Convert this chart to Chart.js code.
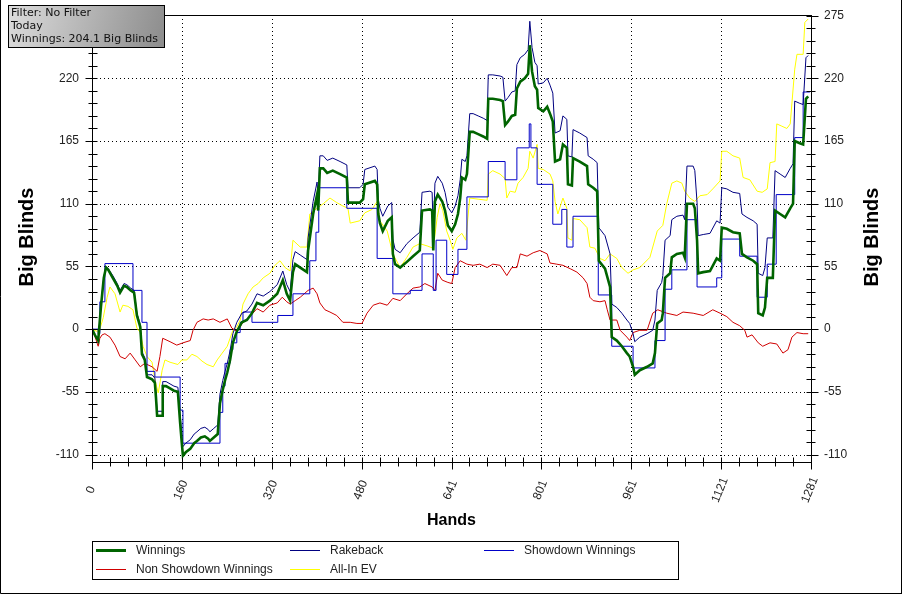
<!DOCTYPE html>
<html><head><meta charset="utf-8">
<script src="https://cdn.jsdelivr.net/npm/chart.js@4.4.1/dist/chart.umd.min.js"></script>
<style>html,body{margin:0;padding:0;background:#fff;overflow:hidden}canvas{display:block}</style>
</head><body>
<canvas id="c" width="902" height="594"></canvas>
<script>
// ---------- data (hands, big blinds) ----------
const xTickLabels = ['0','160','320','480','641','801','961','1121','1281'];
const yTickValues = [-110,-55,0,55,110,165,220,275];
const seriesNames = ['Winnings','Rakeback','Showdown Winnings','Non Showdown Winnings','All-In EV'];
const filterLines = ['Filter: No Filter','Today','Winnings: 204.1 Big Blinds'];

const winHands = [0,5,11,16,21,25,29,37,45,50,57,62,69,75,80,86,89,94,98,107,112,114,116,125,126,132,139,146,153,157,160,162,167,175,182,187,194,201,207,210,217,224,228,233,237,241,246,251,258,267,276,285,294,305,317,330,340,347,353,358,362,371,383,385,394,401,403,406,412,419,429,442,454,456,477,483,486,504,508,510,513,518,527,534,536,540,549,561,572,584,588,602,606,608,611,616,624,629,634,641,647,652,656,659,665,668,673,679,688,697,704,706,714,727,732,736,741,748,754,757,763,771,777,780,784,789,793,795,804,811,816,821,825,834,839,846,848,855,857,869,882,884,893,900,903,914,923,926,935,944,953,958,964,967,976,989,999,1003,1007,1015,1017,1021,1030,1033,1042,1053,1056,1060,1071,1074,1078,1080,1089,1101,1113,1119,1122,1131,1142,1154,1158,1167,1178,1185,1187,1195,1199,1203,1213,1217,1226,1235,1244,1249,1252,1261,1267,1272,1276];
const winValues = [0,-5,-10,20,45,54,52,45,38,32,38,37,34,32,12,2,-22,-27,-42,-44,-47,-60,-76,-76,-50,-50,-52,-54,-55,-82,-100,-111,-108,-105,-100,-98,-95,-94,-96,-98,-95,-92,-65,-53,-45,-38,-27,-12,-2,6,8,14,23,21,25,31,43,31,25,50,57,54,50,69,101,118,104,141,141,137,139,136,133,111,111,114,127,130,127,101,93,86,95,98,66,57,54,59,64,69,104,105,104,69,112,118,112,104,91,86,92,101,115,133,131,136,173,173,171,169,167,202,202,201,200,179,182,187,188,211,217,220,224,249,226,213,210,194,191,195,189,182,147,149,162,159,127,126,150,147,143,127,124,121,60,53,37,-7,-10,-15,-21,-24,-33,-40,-36,-33,-30,-21,5,8,14,45,49,63,66,67,63,110,110,106,78,49,50,51,62,60,89,88,85,84,66,63,60,57,14,12,19,45,45,104,101,98,106,110,165,163,162,202,204.1];

const rakebackHands = winHands;
const rakebackValues = [0,-5,-10,21,46,55,53,47,40,34,40,39,36,34,14,4,-20,-25,-40,-40,-43,-56,-72,-72,-46,-46,-48,-50,-51,-74,-92,-103,-100,-97,-92,-90,-87,-86,-88,-90,-87,-84,-57,-45,-37,-30,-19,-4,6,14,16,22,31,29,33,39,51,39,33,61,68,65,61,80,112,129,115,152,152,148,150,147,144,124,124,127,140,143,140,114,106,99,108,111,79,70,67,75,80,85,120,121,120,85,128,134,128,120,107,102,108,117,131,149,147,152,189,189,187,185,183,223,223,222,221,200,203,208,209,232,238,241,245,270,247,234,231,215,216,220,214,207,172,174,187,184,152,151,175,172,168,152,149,146,89,82,66,22,19,14,8,5,-4,-11,-7,-4,-1,8,34,41,47,78,82,96,99,100,96,143,143,139,111,82,83,84,95,93,124,123,120,119,101,98,95,92,49,47,54,80,80,139,136,133,141,145,200,198,197,238,240];

const showdownHands = [0,11,14,23,73,89,98,112,157,162,228,233,237,246,251,258,264,269,285,331,358,388,399,404,454,508,536,567,588,608,613,632,652,668,706,736,757,779,782,793,821,837,846,857,902,926,964,1003,1021,1033,1060,1078,1113,1122,1154,1185,1203,1219,1252,1267,1279];
const showdownValues = [0,-4,24,57.5,34,6,-37,-42,-71,-100,-73,-50,-30,-18,-12,-3,6,15,6,12,31,60,85,124,106,62,31,34,66,34,78,48,70,116,147,131,159,180,159,127,92,105,72,99,30,-15,-34,-10,35,52,96,37,45,79,64,28,57,118,168,208,208];

const nonShowdownHands = [0,5,11,14,18,23,32,41,50,59,68,77,86,94,107,116,121,126,139,151,162,175,180,187,198,207,216,228,241,249,258,269,281,294,305,317,330,339,347,353,362,371,385,394,401,406,415,424,436,447,460,472,481,490,501,513,526,536,549,561,572,584,593,606,611,616,624,634,641,647,656,668,679,691,704,714,727,739,748,757,763,775,786,798,811,816,828,839,852,864,875,882,887,893,905,914,918,923,935,941,953,958,964,976,989,999,1008,1024,1042,1053,1071,1089,1106,1119,1131,1142,1154,1163,1167,1176,1187,1195,1208,1220,1231,1240,1247,1256,1267,1276];
const nonShowdownValues = [0,-6,-15,-8,-5,-4,-7,-14,-24,-26,-21,-27,-33,-30,-33,-37,-24,-8,-11,-14,-12,-10,-1,6,9,8,9,6,9,1,-2,6,11,18,15,21,23,28,24,22,25,28,34,36,31,23,17,15,12,6,6,5,5,14,21,23,21,27,25,31,36,37,40,37,34,49,43,41,40,54,60,57,56,57,54,57,56,47,54,54,66,64,67,69,66,58,57,56,53,50,45,40,28,25,24,25,17,8,8,-1,-7,-10,-3,-1,-1,14,17,14,12,15,14,12,17,14,11,6,3,-1,-7,-5,-12,-15,-12,-13,-21,-18,-7,-3,-4,-4];

const allInEvHands = [0,9,14,20,27,32,41,50,55,64,73,80,86,91,98,107,112,118,125,130,139,153,160,169,178,187,196,205,216,223,232,241,246,251,258,264,269,278,287,296,305,317,326,335,344,353,358,371,383,388,401,412,424,436,447,456,460,477,486,499,508,513,526,536,549,561,572,584,597,608,615,620,625,632,638,643,650,659,666,673,688,704,706,714,727,736,739,745,754,759,768,777,780,786,793,795,804,816,821,825,830,839,846,848,855,857,869,882,887,896,905,914,923,935,944,955,964,976,994,1007,1017,1024,1033,1042,1051,1056,1065,1074,1083,1096,1106,1119,1122,1131,1142,1154,1160,1172,1185,1194,1203,1208,1217,1220,1229,1238,1244,1252,1256,1267,1270,1276];
const allInEvValues = [0,-2,0,10,28,37,31,15,21,20,17,1,-3,-15,-24,-29,-44,-56,-36,-27,-29,-31,-27,-27,-22,-24,-28,-31,-33,-27,-21,-15,-8,-1,2,8,22,31,37,40,45,49,56,60,54,51,78,72,72,101,106,110,115,111,108,106,93,95,102,105,112,95,86,66,54,63,72,75,73,71,98,110,104,86,78,70,80,84,78,115,114,113,136,139,136,132,115,121,120,128,133,141,156,150,162,141,140,136,130,112,101,115,106,80,78,97,96,89,72,71,62,60,66,62,54,49,52,54,63,86,91,110,128,130,128,121,115,112,117,118,123,130,156,156,152,150,133,131,121,120,123,146,147,180,178,176,180,228,241,241,269,272];

// ---------- styling ----------
const colors = ['#006400','#000080','#0000c8','#d00000','#ffff00'];
const widths = [2.6,1,1,1,1];
const HANDS_MAX = 1281, Y_MIN = -116.5, Y_MAX = 275.5;

function pts(h, v) { return h.map((x, i) => ({x: x, y: v[i]})); }

const customDraw = {
  id: 'customDraw',
  beforeDatasetsDraw(chart) {
    const {ctx, chartArea: a, scales: {x, y}} = chart;
    ctx.save();
    ctx.strokeStyle = '#000'; ctx.lineWidth = 1;
    ctx.setLineDash([1, 3]);
    x.ticks.forEach((t, i) => {
      if (i === 0 || i === x.ticks.length - 1) return;
      const px = Math.round(x.getPixelForValue(t.value)) + 0.5;
      ctx.beginPath(); ctx.moveTo(px, a.top); ctx.lineTo(px, a.bottom); ctx.stroke();
    });
    y.ticks.forEach(t => {
      if (t.value === 0 || t.value === 275) return;
      const py = Math.round(y.getPixelForValue(t.value)) + 0.5;
      ctx.beginPath(); ctx.moveTo(a.left, py); ctx.lineTo(a.right, py); ctx.stroke();
    });
    ctx.setLineDash([]);
    const z = Math.round(y.getPixelForValue(0)) + 0.5;
    ctx.beginPath(); ctx.moveTo(a.left, z); ctx.lineTo(a.right, z); ctx.stroke();
    ctx.restore();
  },
  afterDatasetsDraw(chart) {
    const {ctx, chartArea: a, scales: {x, y}} = chart;
    ctx.save();
    ctx.strokeStyle = '#000'; ctx.lineWidth = 1;
    const L = Math.round(a.left) + 0.5, R = Math.round(a.right) + 0.5;
    const T = Math.round(a.top) + 0.5, B = Math.round(a.bottom) + 0.5;
    ctx.strokeRect(L, T, R - L, B - T);
    // ticks
    ctx.beginPath();
    const yStep = 11;
    for (let v = -110; v <= 275.01; v += yStep) {
      const py = Math.round(y.getPixelForValue(v)) + 0.5;
      const major = Math.abs(v % 55) < 0.01;
      ctx.moveTo(L - (major ? 7 : 4), py); ctx.lineTo(L + 5, py);
      ctx.moveTo(R - 5, py); ctx.lineTo(R + (major ? 7 : 4), py);
    }
    const xStep = HANDS_MAX / 40;
    for (let k = 0; k <= 40; k++) {
      const px = Math.round(x.getPixelForValue(k * xStep)) + 0.5;
      const major = k % 5 === 0;
      ctx.moveTo(px, B - 5); ctx.lineTo(px, B + (major ? 7 : 4));
    }
    ctx.stroke();
    // y labels
    ctx.fillStyle = '#222';
    ctx.font = '12px "Liberation Sans", Arial, sans-serif';
    ctx.textBaseline = 'middle';
    y.ticks.forEach(t => {
      const py = y.getPixelForValue(t.value);
      ctx.textAlign = 'right'; ctx.fillText(String(t.value), 79, py);
      ctx.textAlign = 'left'; ctx.fillText(String(t.value), 824, py);
    });
    // x labels rotated, centred on a common band
    x.ticks.forEach((t, i) => {
      const px = x.getPixelForValue(t.value);
      ctx.save();
      ctx.translate(px - 1, 490);
      ctx.rotate(-68 * Math.PI / 180);
      ctx.textAlign = 'center'; ctx.textBaseline = 'middle';
      ctx.fillText(xTickLabels[i], 0, 0);
      ctx.restore();
    });
    // titles
    ctx.fillStyle = '#000';
    ctx.font = 'bold 16px "Liberation Sans", Arial, sans-serif';
    ctx.textAlign = 'center';
    ctx.fillText('Hands', (a.left + a.right) / 2, 521);
    ctx.font = 'bold 20px "Liberation Sans", Arial, sans-serif';
    [27, 872].forEach(cx => {
      ctx.save(); ctx.translate(cx, 237); ctx.rotate(-Math.PI / 2);
      ctx.fillText('Big Blinds', 0, 0); ctx.restore();
    });
    // legend box
    ctx.strokeRect(92.5, 541.5, 586, 38);
    const cols = [96, 290, 484], rows = [550, 569];
    ctx.font = '12px "Liberation Sans", Arial, sans-serif';
    ctx.textAlign = 'left'; ctx.fillStyle = '#222';
    chart.data.datasets.forEach((ds, i) => {
      const cx = cols[i % 3], cy = rows[Math.floor(i / 3)];
      ctx.save();
      ctx.strokeStyle = ds.borderColor; ctx.lineWidth = i === 0 ? 3 : 1;
      ctx.beginPath(); ctx.moveTo(cx, cy + 0.5); ctx.lineTo(cx + 30, cy + 0.5); ctx.stroke();
      ctx.restore();
      ctx.fillText(ds.label, cx + 40, cy + 1);
    });
    // filter box
    const g = ctx.createLinearGradient(9, 6, 164, 47);
    g.addColorStop(0, '#dcdcdc'); g.addColorStop(1, '#8c8c8c');
    ctx.fillStyle = g; ctx.fillRect(9, 6, 155, 41);
    ctx.strokeStyle = '#000'; ctx.strokeRect(8.5, 5.5, 156, 42);
    ctx.fillStyle = '#111'; ctx.font = '11px "DejaVu Sans", Verdana, sans-serif';
    ctx.textBaseline = 'middle';
    filterLines.forEach((s, i) => ctx.fillText(s, 11, 13.5 + i * 13));
    // outer border
    ctx.beginPath();
    ctx.moveTo(0.5, 0); ctx.lineTo(0.5, 593.5); ctx.lineTo(901.5, 593.5);
    ctx.moveTo(901.5, 0); ctx.lineTo(901.5, 594);
    ctx.stroke();
    ctx.restore();
  }
};

const data = {
  datasets: [
    {label: seriesNames[0], data: pts(winHands, winValues)},
    {label: seriesNames[1], data: pts(rakebackHands, rakebackValues)},
    {label: seriesNames[2], data: pts(showdownHands, showdownValues), stepped: true},
    {label: seriesNames[3], data: pts(nonShowdownHands, nonShowdownValues)},
    {label: seriesNames[4], data: pts(allInEvHands, allInEvValues)}
  ].map((d, i) => Object.assign(d, {
    borderColor: colors[i], borderWidth: widths[i], pointRadius: 0, tension: 0,
    fill: false, borderJoinStyle: 'miter'
  }))
};

new Chart(document.getElementById('c'), {
  type: 'line',
  data: data,
  options: {
    responsive: false, animation: false, devicePixelRatio: 1,
    layout: {padding: {top: 15, right: 91, left: 0, bottom: 0}},
    plugins: {legend: {display: false}, tooltip: {enabled: false}},
    scales: {
      x: {
        type: 'linear', min: 0, max: HANDS_MAX,
        grid: {display: false}, border: {display: false}, ticks: {display: false},
        afterBuildTicks: s => { s.ticks = xTickLabels.map((_, k) => ({value: HANDS_MAX * k / 8})); },
        afterFit: s => { s.height = 132; }
      },
      y: {
        min: Y_MIN, max: Y_MAX,
        grid: {display: false}, border: {display: false}, ticks: {display: false},
        afterBuildTicks: s => { s.ticks = yTickValues.map(v => ({value: v})); },
        afterFit: s => { s.width = 92; }
      }
    }
  },
  plugins: [customDraw]
});
</script>
</body></html>
